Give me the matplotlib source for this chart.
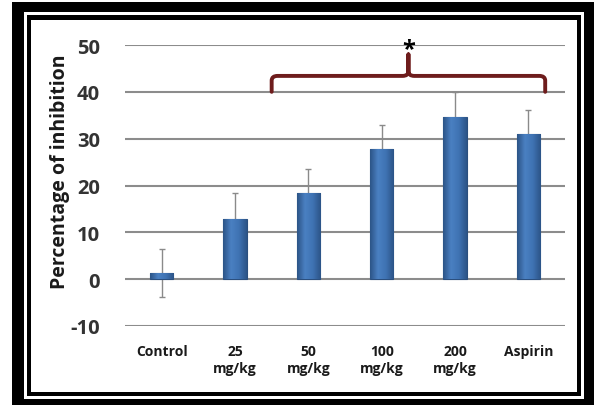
import numpy as np
import matplotlib.pyplot as plt
from matplotlib.patches import Rectangle, PathPatch
from matplotlib.path import Path
from matplotlib.colors import LinearSegmentedColormap

plt.rcParams['axes.unicode_minus'] = False
plt.rcParams['font.family'] = ['Open Sans', 'DejaVu Sans']

# data
groups = ['Control', '25\nmg/kg', '50\nmg/kg', '100\nmg/kg', '200\nmg/kg', 'Aspirin']
inhibition = [1.3, 12.9, 18.4, 27.7, 34.7, 31.1]
sem = [5.1, 5.4, 5.1, 5.3, 5.2, 5.1]

# significance bracket (groups 25 mg/kg .. Aspirin)
brace_x = (1.5, 5.23)
brace_y = (40.0, 43.4, 48.0)
star_label = '*'

W, H = 594, 406
fig = plt.figure(figsize=(W / 100, H / 100), dpi=100)
fig.patch.set_facecolor('white')

# double frame, boxes given as pixel (x0, y0, x1, y1) from top-left
def px_rect(x0, y0, x1, y1, color):
    r = Rectangle((x0 / W, 1 - y1 / H), (x1 - x0) / W, (y1 - y0) / H,
                  transform=fig.transFigure, facecolor=color, edgecolor='none', zorder=-10)
    fig.patches.append(r)

px_rect(12, 3, 594, 406, 'black')
px_rect(24, 13, 584, 400, 'white')
px_rect(27, 16, 581, 397, 'black')
px_rect(31, 21, 577, 393, 'white')

ax = fig.add_axes([125 / W, 1 - 327 / H, 440 / W, 281 / H])
ax.set_facecolor('none')

x = np.arange(len(groups))
ax.errorbar(x, inhibition, yerr=sem, fmt='none', ecolor='#8a8a8a', elinewidth=1,
            capsize=2.5, capthick=1, zorder=2)
bars = ax.bar(x, inhibition, width=0.32, color='#3f74b5', edgecolor='#2b4f7e',
              linewidth=0.8, zorder=3)

# horizontal gradient inside the bars (dark edges, lighter middle)
cmap = LinearSegmentedColormap.from_list('barblue', ['#2c5487', '#4a80c2', '#3f73b3', '#2c5487'])
grad = np.linspace(0, 1, 64).reshape(1, -1)
for b in bars:
    bx, by = b.get_x(), b.get_y()
    bw, bh = b.get_width(), b.get_height()
    im = ax.imshow(grad, cmap=cmap, aspect='auto', extent=(bx, bx + bw, by, by + bh),
                   zorder=3.5, interpolation='bilinear')
    im.set_clip_path(b)

ax.set_xlim(-0.5, 5.5)
ax.set_ylim(-10, 50)
ax.set_yticks(range(-10, 51, 10))
ax.yaxis.grid(True, color='#8c8c8c', linewidth=1.5, zorder=0)
ax.set_axisbelow(True)
for s in ax.spines.values():
    s.set_visible(False)

ax.set_xticks(x)
ax.set_xticklabels(groups, fontsize=10, fontweight='bold',
                   color='#1a1a1a', va='top', linespacing=1.25)
ax.tick_params(axis='x', length=0, pad=13)
ax.tick_params(axis='y', length=0, pad=18, labelsize=14.5, labelcolor='#333333')
for t in ax.get_yticklabels():
    t.set_fontweight('bold')

ax.set_ylabel('Percentage of inhibition', fontsize=14, fontweight='bold',
              color='#1a1a1a', va='center')
ax.yaxis.set_label_coords((60 - 125) / 440, (327 - 172) / 281)

# curly bracket
x0, x1 = brace_x
yb, yh, yt = brace_y
xc = (x0 + x1) / 2
rx, ry = 0.08, 1.0
verts = [
    (x0, yb), (x0, yh - ry), (x0, yh), (x0 + rx, yh),
    (xc - rx, yh), (xc, yh), (xc, yh + ry), (xc, yt),
    (xc, yh + ry), (xc, yh), (xc + rx, yh),
    (x1 - rx, yh), (x1, yh), (x1, yh - ry), (x1, yb),
]
codes = [Path.MOVETO, Path.LINETO, Path.CURVE3, Path.CURVE3,
         Path.LINETO, Path.CURVE3, Path.CURVE3, Path.LINETO,
         Path.LINETO, Path.CURVE3, Path.CURVE3,
         Path.LINETO, Path.CURVE3, Path.CURVE3, Path.LINETO]
brace = PathPatch(Path(verts, codes), facecolor='none', edgecolor='#6e1c1c',
                  linewidth=2.8, capstyle='round', joinstyle='round', zorder=5, clip_on=False)
ax.add_patch(brace)
ax.text(xc, yt + 1.2, star_label, ha='center', va='center', fontsize=17,
        fontweight='bold', color='black', zorder=6)

fig.savefig('out.png', dpi=100)
